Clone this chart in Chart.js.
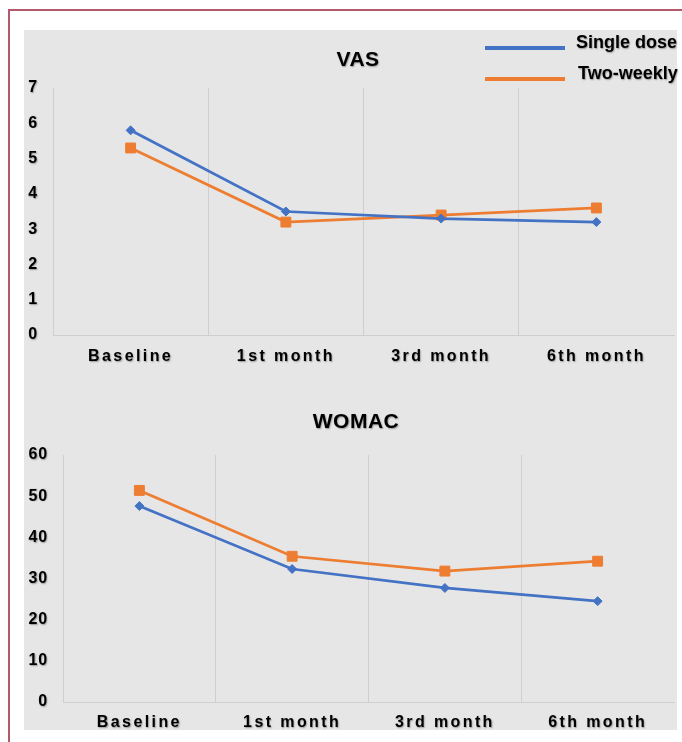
<!DOCTYPE html>
<html>
<head>
<meta charset="utf-8">
<script src="https://cdn.jsdelivr.net/npm/chart.js@4.4.1/dist/chart.umd.min.js"></script>
<style>
  html, body { margin: 0; padding: 0; background: #ffffff; }
  body { width: 682px; height: 742px; position: relative; overflow: hidden; font-family: "Liberation Sans", Arial, sans-serif; }
  #frame { position: absolute; left: 8px; top: 9px; width: 720px; height: 780px; border-top: 2px solid #b25a6c; border-left: 2px solid #b25a6c; }
  #panel { position: absolute; left: 24px; top: 30px; width: 653px; height: 700px; background: #e6e6e6; }
  canvas { position: absolute; }
  #vas { left: 24px; top: 30px; }
  #womac { left: 24px; top: 380px; }
  .sw { position: absolute; left: 485px; width: 80px; height: 4px; }
  .lt { position: absolute; font-size: 18px; font-weight: bold; line-height: 18px; color: #000; white-space: nowrap;
        text-shadow: 0.8px 0.8px 1.5px rgba(0,0,0,0.35); }
</style>
</head>
<body>
<div id="frame"></div>
<div id="panel"></div>
<canvas id="vas" width="658" height="350"></canvas>
<canvas id="womac" width="658" height="362"></canvas>
<div id="legend"></div>
<script>
// ---- data ----
const categories = ['Baseline', '1st month', '3rd month', '6th month'];
const seriesNames = ['Single dose', 'Two-weekly'];
const vasSingle = [5.8, 3.5, 3.3, 3.2];
const vasTwoWeekly = [5.3, 3.2, 3.4, 3.6];
const womacSingle = [47.6, 32.3, 27.7, 24.5];
const womacTwoWeekly = [51.4, 35.4, 31.8, 34.2];
const vasTicks = [0, 1, 2, 3, 4, 5, 6, 7];
const womacTicks = [0, 10, 20, 30, 40, 50, 60];

// ---- styles ----
const BLUE = '#4472c4';
const ORANGE = '#ed7d31';
const GRID = '#cfcfcf';
const FONT = '"Liberation Sans", Arial, sans-serif';
const seriesColors = [BLUE, ORANGE];

// HTML legend built from the series
const legend = document.getElementById('legend');
const legendTops = [{ sw: 46, tx: 33, x: 576 }, { sw: 77, tx: 64, x: 578 }];
seriesNames.forEach((name, i) => {
  const sw = document.createElement('div');
  sw.className = 'sw';
  sw.style.top = legendTops[i].sw + 'px';
  sw.style.background = seriesColors[i];
  legend.appendChild(sw);
  const t = document.createElement('div');
  t.className = 'lt';
  t.style.top = legendTops[i].tx + 'px';
  t.style.left = legendTops[i].x + 'px';
  t.textContent = name;
  legend.appendChild(t);
});

const textStyle = {
  id: 'textStyle',
  beforeDraw(chart) {
    const wrap = (obj, key, spacing) => {
      if (!obj || obj['_w_' + key]) return;
      const orig = obj[key];
      obj[key] = function (...a) {
        const c = chart.ctx;
        c.save();
        c.letterSpacing = spacing;
        c.shadowColor = 'rgba(0,0,0,0.35)';
        c.shadowBlur = 1.5;
        c.shadowOffsetX = 0.8;
        c.shadowOffsetY = 0.8;
        orig.apply(this, a);
        c.restore();
      };
      obj['_w_' + key] = true;
    };
    // let y tick labels extend left of the (narrow) axis box
    chart.scales.y._computeLabelArea = () => undefined;
    wrap(chart.scales.x, 'drawLabels', '2.4px');
    wrap(chart.scales.y, 'drawLabels', '0.8px');
    wrap(chart.titleBlock, 'draw', '0.5px');
  }
};

function makeChart(id, title, single, two, ticks, L) {
  return new Chart(document.getElementById(id), {
    type: 'line',
    data: {
      labels: categories,
      datasets: [
        { label: seriesNames[0], data: single, borderColor: BLUE, backgroundColor: BLUE,
          borderWidth: 2.75, tension: 0, pointStyle: 'rectRot', pointRadius: 4.5, pointBorderWidth: 1 },
        { label: seriesNames[1], data: two, borderColor: ORANGE, backgroundColor: ORANGE,
          borderWidth: 2.75, tension: 0, pointStyle: 'rect', pointRadius: 7, pointBorderWidth: 1 }
      ]
    },
    options: {
      responsive: false,
      animation: false,
      devicePixelRatio: 1,
      layout: { padding: { left: L.padL, right: L.padR, top: 0, bottom: 0 } },
      plugins: {
        legend: { display: false },
        tooltip: { enabled: false },
        title: {
          display: true, text: title, color: '#000',
          font: { family: FONT, size: 21, weight: 'bold', lineHeight: 1.2 },
          padding: { top: L.tT, bottom: L.tB }
        }
      },
      scales: {
        x: {
          type: 'category',
          offset: true,
          grid: { display: true, offset: true, drawTicks: false, lineWidth: 1,
                  color: (c) => (c.index === undefined ? 'rgba(0,0,0,0)' : GRID) },
          border: { display: true, color: GRID, width: 1 },
          ticks: { color: '#000', padding: L.xPad, maxRotation: 0, autoSkip: false,
                   font: { family: FONT, size: 16, weight: 'bold', lineHeight: 1.2 } },
          afterFit(s) { s.height = L.xH; }
        },
        y: {
          min: ticks[0],
          max: ticks[ticks.length - 1],
          grid: { display: false, drawTicks: false },
          border: { display: true, color: GRID, width: 1 },
          ticks: { color: '#000', padding: 15,
                   font: { family: FONT, size: 16, weight: 'bold', lineHeight: 1.2 } },
          afterBuildTicks(s) { s.ticks = ticks.map(v => ({ value: v })); },
          afterFit(s) { s.width = L.yW; }
        }
      }
    },
    plugins: [textStyle]
  });
}

makeChart('vas', 'VAS', vasSingle, vasTwoWeekly, vasTicks,
  { padL: 15, padR: 5, tT: 18, tB: 14.8, xPad: 12, xH: 45, yW: 14 });
makeChart('womac', 'WOMAC', womacSingle, womacTwoWeekly, womacTicks,
  { padL: 10, padR: 4, tT: 29.4, tB: 20.4, xPad: 11, xH: 40, yW: 29 });
</script>
</body>
</html>
